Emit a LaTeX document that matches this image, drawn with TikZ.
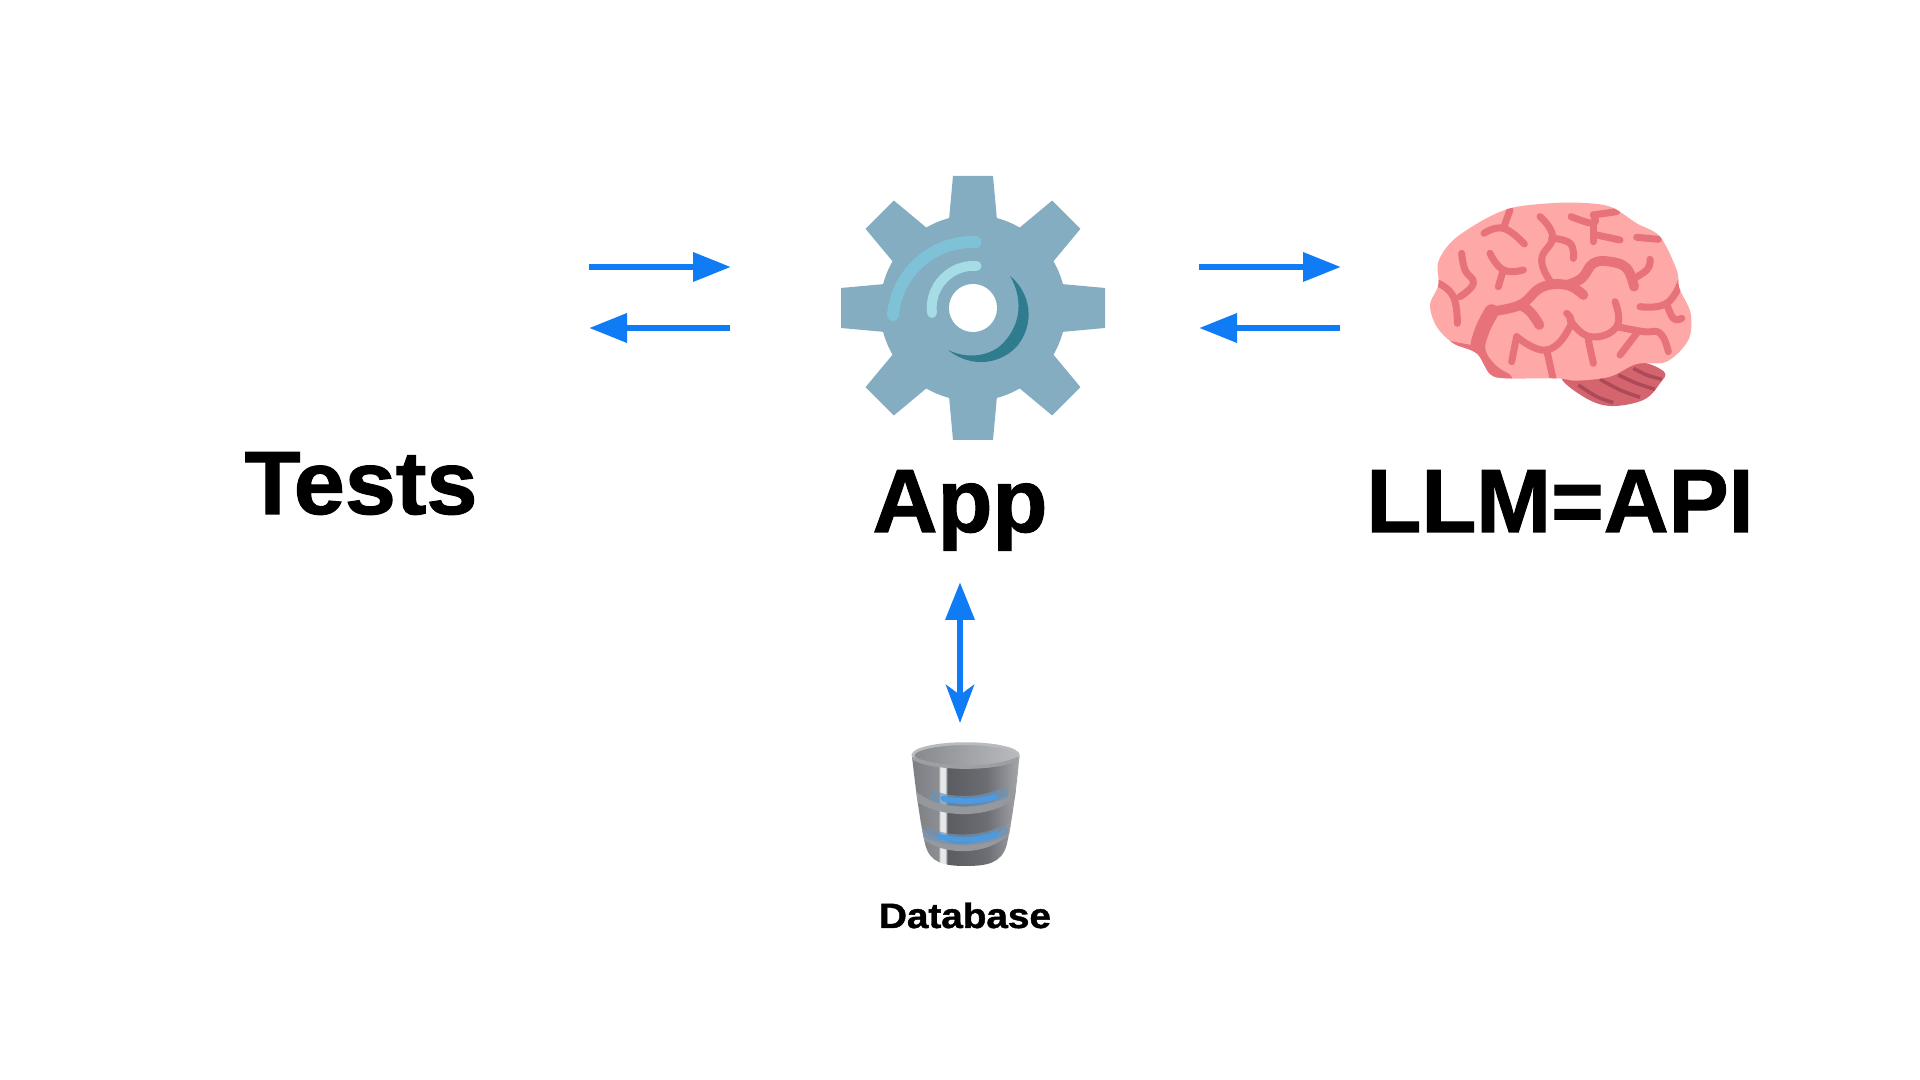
\documentclass[tikz,border=0pt]{standalone}
\usepackage{fontspec}
\setmainfont{Liberation Sans}
\newfontfamily\heavyfont{Liberation Sans Bold}[FakeBold=1.2]
\usetikzlibrary{arrows.meta}
\definecolor{arrowblue}{HTML}{0F7BF5}
\definecolor{gearbody}{HTML}{84ADC1}
\definecolor{gearlight}{HTML}{7FC1D6}
\definecolor{gearpale}{HTML}{A5DCE6}
\definecolor{geardark}{HTML}{2F7C8E}
\definecolor{brainpink}{HTML}{FFA8A8}
\definecolor{brainline}{HTML}{E8727A}
\definecolor{brainback}{HTML}{D4656F}
\definecolor{braindeep}{HTML}{AD4A57}
\definecolor{dbleft}{HTML}{7C7E82}
\definecolor{dbleftb}{HTML}{8B8E92}
\definecolor{dbshine}{HTML}{E6E8EA}
\definecolor{dbdark}{HTML}{5A5C61}
\definecolor{dbmid}{HTML}{6C6E74}
\definecolor{dbright}{HTML}{A5A7AA}
\definecolor{dbring}{HTML}{95989C}
\definecolor{dbrim}{HTML}{B9BBBE}
\definecolor{dbglow}{HTML}{6F93B5}
\definecolor{dbblue}{HTML}{4C9BE2}
\pgfdeclarehorizontalshading{dbbody}{100bp}{
 color(0bp)=(dbleft);
 color(25bp)=(dbleft);
 color(37.5bp)=(dbleftb);
 color(38bp)=(dbshine);
 color(40.5bp)=(dbshine);
 color(41.5bp)=(dbdark);
 color(60bp)=(dbmid);
 color(75bp)=(dbright);
 color(100bp)=(dbright)}
\tikzset{
 x=0.05cm,y=0.05cm,
 biglabel/.style={anchor=base,font=\fontsize{128}{132}\selectfont\heavyfont,inner sep=0pt},
 smalllabel/.style={anchor=base,font=\fontsize{50}{54}\selectfont\heavyfont,inner sep=0pt},
 flow/.style={draw=arrowblue,line width=0.33cm,{Triangle[length=1.9cm,width=1.4cm,color=arrowblue]}-},
 flowr/.style={draw=arrowblue,line width=0.33cm,-{Triangle[length=1.9cm,width=1.4cm,color=arrowblue]}},
 flowboth/.style={draw=arrowblue,line width=0.33cm,{Triangle[length=1.9cm,width=1.4cm,color=arrowblue]}-{Stealth[length=1.9cm,width=1.4cm,inset=0.5cm,color=arrowblue]}},
 sulcus/.style={draw=brainline,line width=10pt,line cap=round,line join=round},
 sulcusthick/.style={sulcus,line width=14pt},
 sulcusbase/.style={sulcus,line width=21pt},
 foldline/.style={draw=braindeep,line width=5pt},
 dbringline/.style={draw=dbring,line width=11pt},
 dbglowline/.style={draw=dbglow,line width=15pt,opacity=0.7,line cap=round},
 dbblueline/.style={draw=dbblue,line width=8pt,line cap=round},
}
\begin{document}
\begin{tikzpicture}
\useasboundingbox (0,0) rectangle (1920,1080);
\fill[white] (0,0) rectangle (1920,1080);

% gear
\begin{scope}[shift={(973,772)}]
 \fill[gearbody] (0,0) circle (93);
 \foreach \a in {0,45,...,315}{
  \fill[gearbody,rotate=\a] (88,-24) -- (132,-20) -- (132,20) -- (88,24) -- cycle;
 }
 \draw[gearlight,line width=17pt,line cap=round] (-80,-7) arc[start angle=175,end angle=88,radius=80];
 \draw[gearpale,line width=14pt,line cap=round] (-41,-5) arc[start angle=187,end angle=86,radius=42];
 \fill[geardark] (37,32) .. controls (58,15) and (62,-15) .. (45,-37) .. controls (30,-55) and (0,-62) .. (-25,-42)
   .. controls (-5,-52) and (20,-48) .. (32,-33) .. controls (48,-15) and (50,10) .. (37,32) -- cycle;
 \fill[white] (0,0) circle (24);
\end{scope}

% brain (coordinates in 3x crop pixels)
\begin{scope}[shift={(1410,900)},xscale=1/3,yscale=-1/3]
 \fill[brainback] plot[smooth cycle,tension=0.6] coordinates {(455,590) (520,650) (600,678) (700,660) (750,610) (762,575) (680,545) (560,570)};
 \draw[foldline] plot[smooth] coordinates {(505,615) (560,650) (610,668)};
 \draw[foldline] plot[smooth] coordinates {(570,598) (630,630) (690,652)};
 \draw[foldline] plot[smooth] coordinates {(625,585) (680,610) (735,628)};
 \draw[foldline] plot[smooth] coordinates {(670,565) (710,585) (755,598)};
 \fill[brainpink] plot[smooth cycle,tension=0.55] coordinates {(60,375) (85,315) (85,245) (130,180) (220,120) (300,85) (390,72) (500,68) (600,80) (680,130) (750,170) (800,270) (808,325) (842,400) (835,480) (770,545) (680,552) (600,590) (500,602) (440,595) (290,595) (240,582) (200,520) (130,490) (80,440)};
 \begin{scope}
  \clip plot[smooth cycle,tension=0.55] coordinates {(60,375) (85,315) (85,245) (130,180) (220,120) (300,85) (390,72) (500,68) (600,80) (680,130) (750,170) (800,270) (808,325) (842,400) (835,480) (770,545) (680,552) (600,590) (500,602) (440,595) (290,595) (240,582) (200,520) (130,490) (80,440)};
  \draw[sulcusbase] plot[smooth,tension=0.7] coordinates {(245,395) (215,455) (205,515) (240,570) (285,600)};
  \draw[sulcus] (100,490) -- (205,510);
  \draw[sulcus] plot[smooth,tension=0.8] coordinates {(85,310) (130,350) (142,430)};
  \draw[sulcus] plot[smooth,tension=0.8] coordinates {(300,90) (280,145)};
  \draw[sulcus] plot[smooth,tension=0.8] coordinates {(680,172) (745,178)};
  \draw[sulcus] plot[smooth,tension=0.8] coordinates {(815,300) (770,370) (690,380)};
  \draw[sulcus] plot[smooth,tension=0.8] coordinates {(410,510) (430,600)};
  \draw[sulcus] plot[smooth,tension=0.8] coordinates {(550,105) (620,95)};
 \end{scope}
 \draw[sulcusthick] plot[smooth,tension=0.7] coordinates {(238,395) (330,375) (395,322) (470,315) (520,345)};
 \draw[sulcusthick] plot[smooth,tension=0.7] coordinates {(470,315) (515,295) (550,250) (600,245) (650,265) (672,320)};
 \draw[sulcus] plot[smooth,tension=0.8] coordinates {(672,295) (712,268) (720,238)};
 \draw[sulcus] plot[smooth,tension=0.8] coordinates {(155,220) (165,270) (190,310) (150,350)};
 \draw[sulcus] plot[smooth,tension=0.8] coordinates {(222,160) (280,145) (343,192)};
 \draw[sulcus] plot[smooth,tension=0.8] coordinates {(240,220) (280,270) (340,270)};
 \draw[sulcus] plot[smooth,tension=0.8] coordinates {(280,270) (265,320)};
 \draw[sulcus] plot[smooth,tension=0.8] coordinates {(390,110) (428,170) (395,240) (425,310)};
 \draw[sulcus] plot[smooth,tension=0.8] coordinates {(425,175) (480,190) (490,235)};
 \draw[sulcus] plot[smooth,tension=0.8] coordinates {(483,110) (550,130) (550,105)};
 \draw[sulcus] plot[smooth,tension=0.8] coordinates {(550,130) (550,185)};
 \draw[sulcus] plot[smooth,tension=0.8] coordinates {(560,165) (630,180)};
 \draw[sulcus] plot[smooth,tension=0.8] coordinates {(770,370) (790,415) (815,415)};
 \draw[sulcusthick] plot[smooth,tension=0.8] coordinates {(330,375) (360,395) (388,435)};
 \draw[sulcus] plot[smooth,tension=0.8] coordinates {(320,470) (410,510) (480,440) (470,400)};
 \draw[sulcus] plot[smooth,tension=0.8] coordinates {(480,420) (540,470) (620,440) (615,365)};
 \draw[sulcus] plot[smooth,tension=0.8] coordinates {(620,440) (700,455) (750,460) (775,515)};
 \draw[sulcus] plot[smooth,tension=0.8] coordinates {(320,470) (305,545)};
 \draw[sulcus] plot[smooth,tension=0.8] coordinates {(535,480) (550,550)};
 \draw[sulcus] plot[smooth,tension=0.8] coordinates {(630,525) (680,460)};
\end{scope}

% database (coordinates in 3x crop pixels)
\begin{scope}[shift={(880,510)},xscale=1/3,yscale=-1/3]
 \path[shading=dbbody] (96,560) -- (418,560) .. controls (412,640) and (395,760) .. (380,825) .. controls (365,880) and (320,888) .. (258,888) .. controls (195,888) and (150,880) .. (136,825) .. controls (120,760) and (105,640) .. (96,560) -- cycle;
 \begin{scope}
  \clip (96,560) -- (418,560) .. controls (412,640) and (395,760) .. (380,825) .. controls (365,880) and (320,888) .. (258,888) .. controls (195,888) and (150,880) .. (136,825) .. controls (120,760) and (105,640) .. (96,560) -- cycle;
  \draw[dbringline] (100,672) .. controls (170,738) and (340,738) .. (410,665);
  \draw[dbringline] (112,776) .. controls (175,852) and (330,852) .. (395,768);
  \draw[dbglowline] (165,680) .. controls (225,700) and (300,700) .. (370,670);
  \draw[dbblueline] (190,685) .. controls (225,697) and (300,697) .. (345,680);
  \draw[dbglowline] (145,790) .. controls (210,817) and (300,817) .. (370,783);
  \draw[dbblueline] (180,800) .. controls (225,814) and (295,814) .. (350,792);
 \end{scope}
 \shade[left color=dbring!90!black,right color=dbrim] (257,556) ellipse[x radius=160,y radius=36];
 \draw[dbrim,line width=4pt] (257,556) ellipse[x radius=158,y radius=35];
 \draw[dbrim!85!black,line width=5pt] (100,565) .. controls (170,600) and (345,600) .. (415,565);
\end{scope}

% labels
\node[biglabel,xscale=1.02] (tests) at (361,566) {Tests};
\node[biglabel] (app) at (960,548) {App};
\node[biglabel] (llm) at (1560,548) {LLM=API};
\node[smalllabel,xscale=1.1] (db) at (965,152) {Database};

% connector ends
\coordinate (testsOutA) at (589,813);
\coordinate (appInA) at (731,813);
\coordinate (appOutB) at (730,752);
\coordinate (testsInB) at (589,752);
\coordinate (appOutC) at (1199,813);
\coordinate (llmInC) at (1341,813);
\coordinate (llmOutD) at (1340,752);
\coordinate (appInD) at (1199,752);
\coordinate (appBottom) at (960,498);
\coordinate (dbTop) at (960,357);

\draw[flowr] (testsOutA) -- (appInA);
\draw[flow] (testsInB) -- (appOutB);
\draw[flowr] (appOutC) -- (llmInC);
\draw[flow] (appInD) -- (llmOutD);
\draw[flowboth] (appBottom) -- (dbTop);
\end{tikzpicture}
\end{document}
